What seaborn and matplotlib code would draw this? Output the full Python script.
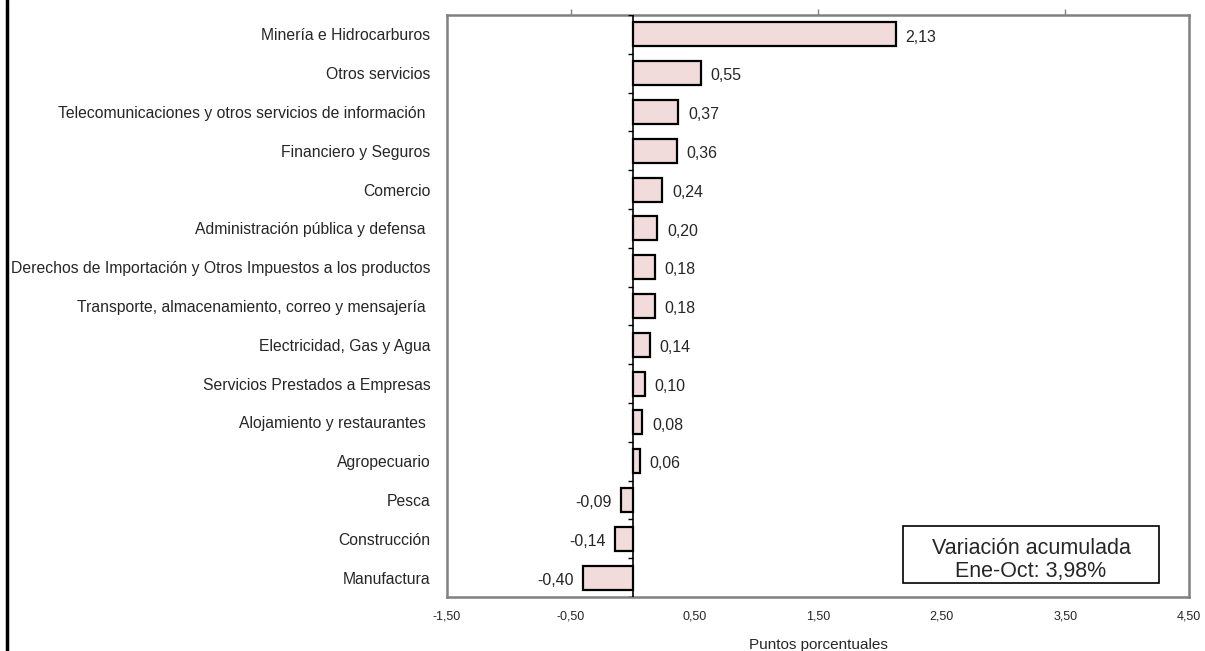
import numpy as np
import pandas as pd
import matplotlib
matplotlib.use("Agg")
from matplotlib import pyplot as plt
from matplotlib.patches import Rectangle
from matplotlib.lines import Line2D
import seaborn as sns

# data
sectores = [
    "Minería e Hidrocarburos",
    "Otros servicios",
    "Telecomunicaciones y otros servicios de información ",
    "Financiero y Seguros",
    "Comercio",
    "Administración pública y defensa ",
    "Derechos de Importación y Otros Impuestos a los productos",
    "Transporte, almacenamiento, correo y mensajería ",
    "Electricidad, Gas y Agua",
    "Servicios Prestados a Empresas",
    "Alojamiento y restaurantes ",
    "Agropecuario",
    "Pesca",
    "Construcción",
    "Manufactura",
]
puntos = [2.13, 0.55, 0.37, 0.36, 0.24, 0.20, 0.18, 0.18, 0.14, 0.10, 0.08, 0.06, -0.09, -0.14, -0.40]
x_ticks = [-1.5, -0.5, 0.5, 1.5, 2.5, 3.5, 4.5]
top_ticks = [-0.5, 1.5, 3.5]

df = pd.DataFrame({"sector": sectores, "pp": puntos})

sns.set_style("white")
plt.rcParams["font.family"] = ["Liberation Sans", "DejaVu Sans"]

fig = plt.figure(figsize=(12.05, 6.51), dpi=100)
ax = fig.add_axes([447 / 1205, 1 - 597 / 651, (1189 - 447) / 1205, (597 - 15) / 651])

sns.barplot(data=df, x="pp", y="sector", orient="h", color="#F2DCDB",
            edgecolor="black", linewidth=1.6, width=0.62, saturation=1, ax=ax)

ax.set_xlim(-1.5, 4.5)
ax.set_ylim(len(sectores) - 0.5, -0.5)

# frame
for sp in ax.spines.values():
    sp.set_visible(True)
    sp.set_color("#808080")
    sp.set_linewidth(1.8)

# zero line with category-boundary ticks
ax.axvline(0, color="black", linewidth=1.2, zorder=3)
bounds = np.arange(len(sectores) + 1) - 0.5
ax.hlines(bounds, -0.04, 0, color="black", linewidth=1.0, zorder=3)

# x ticks
ax.set_xticks(x_ticks)
ax.set_xticklabels([f"{v:.2f}".replace(".", ",") for v in x_ticks], fontsize=9)
ax.tick_params(axis="x", length=0, pad=10)
ax.set_xlabel("Puntos porcentuales", fontsize=11, labelpad=11)

top = ax.secondary_xaxis("top")
top.set_xticks(top_ticks)
top.set_xticklabels([])
top.tick_params(axis="x", length=4, width=1, color="#808080", direction="out")
top.spines["top"].set_visible(False)

# y labels
ax.set_ylabel("")
ax.tick_params(axis="y", length=0, pad=12, labelsize=11.3)

# value labels
for i, v in enumerate(puntos):
    txt = f"{v:.2f}".replace(".", ",")
    if v >= 0:
        ax.annotate(txt, (v, i), xytext=(7, -2), textcoords="offset points",
                    ha="left", va="center", fontsize=11.5)
    else:
        ax.annotate(txt, (v, i), xytext=(-7, -2), textcoords="offset points",
                    ha="right", va="center", fontsize=11.5)

# info box
ax.add_patch(Rectangle((0.6146, 0.024), 0.345, 0.098, transform=ax.transAxes,
                       facecolor="white", edgecolor="black", linewidth=1.2, zorder=4))
ax.text(0.787, 0.0636, "Variación acumulada\nEne-Oct: 3,98%", transform=ax.transAxes,
        ha="center", va="center", fontsize=15.5, linespacing=1.1, zorder=5)

# outer border on the left
fig.add_artist(Line2D([7 / 1205, 7 / 1205], [0, 1], color="black", linewidth=2.5))

fig.savefig("out.png", dpi=100)
